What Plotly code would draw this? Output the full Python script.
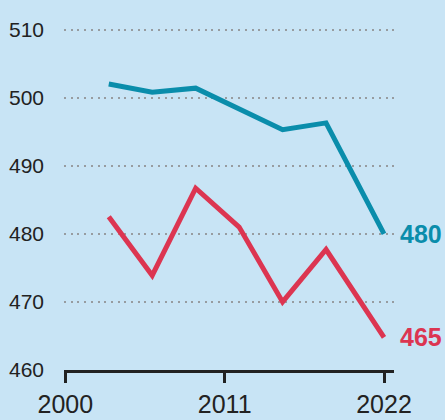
import plotly.graph_objects as go

years = [2003, 2006, 2009, 2012, 2015, 2018, 2022]
teal_values = [502, 500.8, 501.4, 498.4, 495.3, 496.3, 480]
red_values = [482.5, 473.9, 486.7, 481.0, 470.0, 477.7, 464.8]
teal_label = "480"
red_label = "465"
x_ticks = [2000, 2011, 2022]
y_ticks = [460, 470, 480, 490, 500, 510]

TEAL = "#0a8dab"
RED = "#dc3551"
BG = "#c8e4f5"
DARK = "#222222"
FONT = "Liberation Sans, Arial, Helvetica, sans-serif"

fig = go.Figure()
fig.add_trace(go.Scatter(x=years, y=teal_values, mode="lines",
                         line=dict(color=TEAL, width=5), hoverinfo="skip"))
fig.add_trace(go.Scatter(x=years, y=red_values, mode="lines",
                         line=dict(color=RED, width=5), hoverinfo="skip"))

fig.add_annotation(x=years[-1], y=teal_values[-1], text="<b>" + teal_label + "</b>",
                   showarrow=False, xanchor="left", yanchor="middle", xshift=14,
                   font=dict(family=FONT, size=25, color=TEAL))
fig.add_annotation(x=years[-1], y=red_values[-1], text="<b>" + red_label + "</b>",
                   showarrow=False, xanchor="left", yanchor="middle", xshift=14,
                   font=dict(family=FONT, size=25, color=RED))

fig.update_layout(
    width=445, height=420,
    margin=dict(l=64, r=51, t=16, b=50, autoexpand=False),
    paper_bgcolor=BG, plot_bgcolor=BG,
    showlegend=False,
    xaxis=dict(range=[1999.91, 2022.69], tickvals=x_ticks, ticktext=[str(t) for t in x_ticks],
               showgrid=False, zeroline=False, showline=True, linecolor=DARK, linewidth=3,
               ticks="outside", ticklen=10, tickwidth=2.5, tickcolor=DARK, automargin=False,
               tickfont=dict(family=FONT, size=25, color=DARK)),
    yaxis=dict(range=[460, 512], tickvals=y_ticks, showgrid=True, gridcolor="#979ca0",
               griddash="2px,4.7px", gridwidth=2, zeroline=False, showline=False, ticks="",
               ticklabelstandoff=19, automargin=False,
               tickfont=dict(family=FONT, size=21, color=DARK)),
)

fig.write_html("out.html", config={"displayModeBar": False},
               post_script="document.body.style.margin='0';")
